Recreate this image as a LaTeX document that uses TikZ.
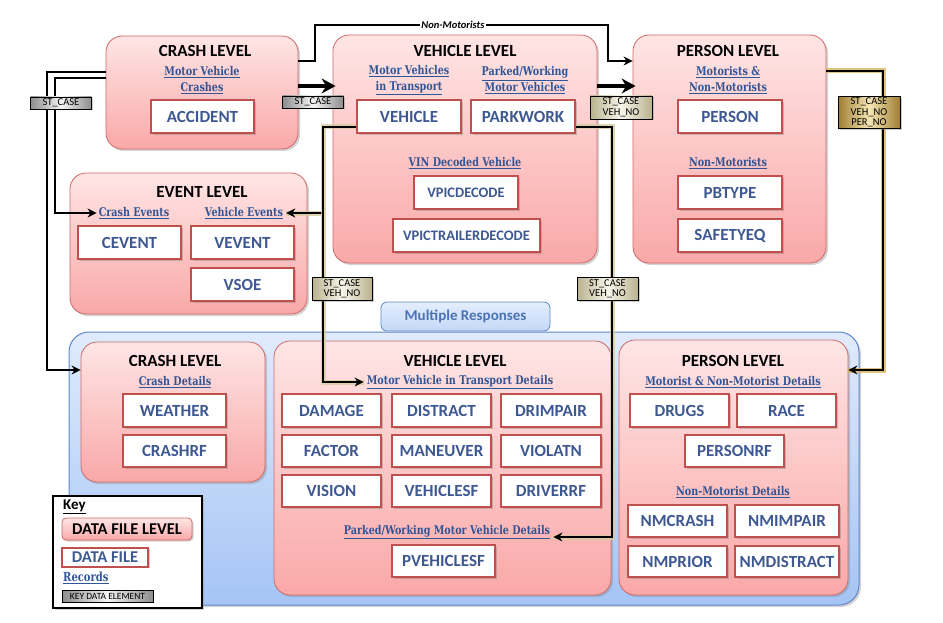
\documentclass[tikz,border=0pt]{standalone}
\usepackage{fontspec}
\setmainfont{Carlito}
\newfontfamily\slab[FakeStretch=0.8]{DejaVu Serif}
\usetikzlibrary{arrows.meta,shadows}
\definecolor{pinkTop}{RGB}{255,229,229}
\definecolor{pinkBot}{RGB}{250,168,168}
\definecolor{pinkB}{RGB}{210,105,105}
\definecolor{dataB}{RGB}{192,80,77}
\definecolor{dataT}{RGB}{62,88,145}
\definecolor{subT}{RGB}{50,85,150}
\definecolor{blueTop}{RGB}{224,235,252}
\definecolor{blueBot}{RGB}{165,196,245}
\definecolor{blueB}{RGB}{95,135,200}
\definecolor{tabTop}{RGB}{228,238,253}
\definecolor{tabBot}{RGB}{196,216,248}
\definecolor{tabT}{RGB}{75,115,180}
\definecolor{lgE}{RGB}{140,140,140}
\definecolor{lgM}{RGB}{245,245,245}
\definecolor{bgE}{RGB}{185,178,142}
\definecolor{bgM}{RGB}{247,245,234}
\definecolor{ggE}{RGB}{160,125,50}
\definecolor{ggM}{RGB}{245,230,180}
\definecolor{glowC}{RGB}{215,203,160}
\definecolor{glowY}{RGB}{215,180,100}
\begin{document}
\begin{tikzpicture}[x=1pt,y=-1pt,
  shd/.style={drop shadow={opacity=0.35,shadow xshift=2pt,shadow yshift=-2pt}},
  lvl/.style={draw=pinkB, line width=0.8pt, rounded corners=16pt, top color=pinkTop, bottom color=pinkBot, inner sep=0, shd},
  bluebox/.style={draw=blueB, line width=1pt, rounded corners=20pt, top color=blueTop, bottom color=blueBot, inner sep=0, shd},
  tabbox/.style={draw=blueB, line width=0.8pt, rounded corners=6pt, top color=tabTop, bottom color=tabBot, text=tabT, font=\bfseries\fontsize{15}{18}\selectfont, inner sep=0},
  data/.style={draw=dataB, line width=2.4pt, fill=white, text=dataT, font=\bfseries\fontsize{17}{20}\selectfont, inner sep=0, minimum width=103, minimum height=33, drop shadow={opacity=0.4,shadow xshift=2pt,shadow yshift=-2pt}},
  dsmall/.style={data, font=\bfseries\fontsize{14.5}{17}\selectfont},
  ttl/.style={font=\bfseries\fontsize{17}{20}\selectfont, inner sep=0},
  sub/.style={font=\slab\bfseries\fontsize{12}{15.5}\selectfont, text=subT, align=center, inner sep=1pt},
  lab/.style={draw=black, line width=0.6pt, font=\fontsize{10.5}{10.5}\selectfont, align=center, inner sep=0, drop shadow={opacity=0.4,shadow xshift=1.5pt,shadow yshift=-1.5pt}},
  graylab/.style={lab, left color=lgE, right color=lgE, middle color=lgM},
  beigelab/.style={lab, left color=bgE, right color=bgE, middle color=bgM},
  goldlab/.style={lab, left color=ggE, right color=ggE, middle color=ggM},
  conn/.style={line width=1.5pt, black, -{Stealth[length=9pt,width=9pt]}},
  bigarrow/.style={line width=3.5pt, black, -{Stealth[length=14pt,width=15pt]}},
  glow/.style={conn, preaction={draw, line width=5pt, glowC, opacity=0.8, arrows=-}},
  glowgold/.style={conn, preaction={draw, line width=5pt, glowY, opacity=0.8, arrows=-}}
]
\useasboundingbox (0,0) rectangle (943,623);

% ---------- multiple responses container ----------
\node[bluebox, minimum width=790, minimum height=273] (multi) at (464,468.5) {};
\node[tabbox, minimum width=169, minimum height=29] (tab) at (465.5,316.5) {Multiple Responses};

% ---------- level boxes ----------
\node[lvl, minimum width=192, minimum height=113] (crashT) at (202,92.5) {};
\node[lvl, minimum width=264, minimum height=228] (vehT) at (465,149) {};
\node[lvl, minimum width=193, minimum height=228] (perT) at (729.5,149) {};
\node[lvl, minimum width=237, minimum height=141] (eventL) at (188.5,243.5) {};
\node[lvl, minimum width=184, minimum height=140] (crashB) at (173,412) {};
\node[lvl, minimum width=337, minimum height=254] (vehB) at (442.5,468) {};
\node[lvl, minimum width=229, minimum height=255] (perB) at (733.5,467.5) {};

% ---------- titles ----------
\node[ttl] (t1) at (205,51) {CRASH LEVEL};
\node[ttl] (t2) at (465,51) {VEHICLE LEVEL};
\node[ttl] (t3) at (728,51) {PERSON LEVEL};
\node[ttl] (t4) at (202,192) {EVENT LEVEL};
\node[ttl] (t5) at (175,361) {CRASH LEVEL};
\node[ttl] (t6) at (455,361) {VEHICLE LEVEL};
\node[ttl] (t7) at (733,361) {PERSON LEVEL};

% ---------- sub headings ----------
\node[sub] (s1) at (202,80) {\underline{Motor Vehicle}\\\underline{Crashes}};
\node[sub] (s2) at (409,80) {\underline{Motor Vehicles}\\\underline{in Transport}};
\node[sub] (s3) at (525,80) {\underline{Parked/Working}\\\underline{Motor Vehicles}};
\node[sub] (s4) at (465,163) {\underline{VIN Decoded Vehicle}};
\node[sub] (s5) at (728,80) {\underline{Motorists \&}\\\underline{Non-Motorists}};
\node[sub] (s6) at (728,163) {\underline{Non-Motorists}};
\node[sub] (ce) at (134,213) {\underline{Crash Events}};
\node[sub] (ve) at (244,213) {\underline{Vehicle Events}};
\node[sub] (cd) at (175,382) {\underline{Crash Details}};
\node[sub] (mvt) at (460,382) {\underline{Motor Vehicle in Transport Details}};
\node[sub] (pwd) at (447,532) {\underline{Parked/Working Motor Vehicle Details}};
\node[sub] (mnd) at (733,382) {\underline{Motorist \& Non-Motorist Details}};
\node[sub] (nmd) at (733,492) {\underline{Non-Motorist Details}};

% ---------- connectors ----------
\draw[conn] (crashT.east |- 0,61) -- (315,61) -- (315,25) -- (608,25) -- (608,61) -- (perT.west |- 0,61);
\node[fill=white, font=\bfseries\itshape\fontsize{10.5}{11}\selectfont, inner sep=1pt] (nm) at (453,25) {Non-Motorists};
\draw[bigarrow] (crashT.east |- 0,86) -- ([xshift=3pt]vehT.west |- 0,86);
\draw[bigarrow] (vehT.east |- 0,86) -- ([xshift=3pt]perT.west |- 0,86);
\draw[conn] (crashT.west |- 0,72) -- (47,72) -- (47,370) -- (crashB.west |- 0,370);
\draw[conn] (crashT.west |- 0,78) -- (55,78) -- (55,213) -- ([xshift=-1pt]ce.west |- 0,213);
\draw[glowgold] (perT.east |- 0,71) -- (883,71) -- (883,370) -- (perB.east |- 0,370);

% ---------- data files ----------
\node[data, minimum width=103] (acc) at (202.5,116.5) {ACCIDENT};
\node[data, minimum width=104] (veh) at (409,116.5) {VEHICLE};
\node[data, minimum width=104] (pw) at (523,116.5) {PARKWORK};
\node[dsmall, minimum width=104] (vpic) at (466,192.5) {VPICDECODE};
\node[dsmall, minimum width=147] (vpict) at (466.5,235.5) {VPICTRAILERDECODE};
\node[data, minimum width=104] (per) at (730,116.5) {PERSON};
\node[data, minimum width=104] (pbt) at (730,192.5) {PBTYPE};
\node[data, minimum width=104] (seq) at (730,235.5) {SAFETYEQ};
\node[data] (cev) at (129.5,242.5) {CEVENT};
\node[data] (vev) at (242.5,242.5) {VEVENT};
\node[data] (vsoe) at (242.5,284.5) {VSOE};
\node[data] (wea) at (174.5,410.5) {WEATHER};
\node[data, minimum height=32] (crf) at (174.5,451) {CRASHRF};
\node[data, minimum width=99] (dam) at (331.5,410.5) {DAMAGE};
\node[data, minimum width=99] (dis) at (441.5,410.5) {DISTRACT};
\node[data, minimum width=100] (dri) at (551,410.5) {DRIMPAIR};
\node[data, minimum width=99, minimum height=32] (fac) at (331.5,451) {FACTOR};
\node[data, minimum width=99, minimum height=32] (man) at (441.5,451) {MANEUVER};
\node[data, minimum width=100, minimum height=32] (vio) at (551,451) {VIOLATN};
\node[data, minimum width=99, minimum height=32] (vis) at (331.5,491) {VISION};
\node[data, minimum width=99, minimum height=32] (vsf) at (441.5,491) {VEHICLESF};
\node[data, minimum width=100, minimum height=32] (drf) at (551,491) {DRIVERRF};
\node[data, minimum height=32] (pvsf) at (443.5,561) {PVEHICLESF};
\node[data, minimum width=99] (drg) at (679.5,410.5) {DRUGS};
\node[data, minimum width=99] (race) at (786.5,410.5) {RACE};
\node[data, minimum width=99, minimum height=32] (prf) at (734.5,451) {PERSONRF};
\node[data, minimum width=99, minimum height=32] (nmc) at (677.5,521) {NMCRASH};
\node[data, minimum width=104, minimum height=32] (nmi) at (787,521) {NMIMPAIR};
\node[data, minimum width=99, minimum height=31] (nmp) at (677.5,561.5) {NMPRIOR};
\node[data, minimum width=104, minimum height=31] (nmdx) at (787,561.5) {NMDISTRACT};

% ---------- glowing connectors ----------
\draw[glow] (323,213) -- ([xshift=2pt]ve.east |- 0,213);
\draw[glow] (veh.west |- 0,127) -- (323,127) -- (323,382) -- ([xshift=-2pt]mvt.west |- 0,382);
\draw[glow] (pw.east |- 0,127) -- (612,127) -- (612,537) -- ([xshift=2pt]pwd.east |- 0,537);

% ---------- key element labels ----------
\node[graylab, minimum width=61, minimum height=12] (k1) at (313,102) {ST\_CASE};
\node[beigelab, minimum width=62, minimum height=23] (k2) at (621,107.5) {ST\_CASE\\VEH\_NO};
\node[graylab, minimum width=61, minimum height=12] (k3) at (61,103) {ST\_CASE};
\node[beigelab, minimum width=60, minimum height=23] (k4) at (342,289) {ST\_CASE\\VEH\_NO};
\node[beigelab, minimum width=61, minimum height=23] (k5) at (607.5,289) {ST\_CASE\\VEH\_NO};
\node[goldlab, minimum width=62, minimum height=32] (k6) at (869,112.5) {ST\_CASE\\VEH\_NO\\PER\_NO};

% ---------- key ----------
\node[draw=black, line width=1.5pt, fill=white, minimum width=149, minimum height=112, inner sep=0, drop shadow={opacity=0.35,shadow xshift=2pt,shadow yshift=-2pt}] (key) at (127.5,552) {};
\node[anchor=west, font=\bfseries\fontsize{15}{17}\selectfont, inner sep=0] (keyt) at (63,507) {\underline{Key}};
\node[draw=pinkB, line width=0.8pt, rounded corners=4pt, top color=pinkTop, bottom color=pinkBot, minimum width=130, minimum height=22, inner sep=0, font=\bfseries\fontsize{16.5}{18}\selectfont, drop shadow={opacity=0.35,shadow xshift=1.5pt,shadow yshift=-1.5pt}] (kl) at (127,529) {DATA FILE LEVEL};
\node[draw=dataB, line width=2pt, fill=white, text=dataT, minimum width=86, minimum height=19, inner sep=0, font=\bfseries\fontsize{16.5}{18}\selectfont, drop shadow={opacity=0.35,shadow xshift=1.5pt,shadow yshift=-1.5pt}] (kd) at (105,557) {DATA FILE};
\node[anchor=west, font=\slab\bfseries\fontsize{12.5}{14}\selectfont, text=subT, inner sep=0] (kr) at (63,578) {\underline{Records}};
\node[draw=black, line width=0.6pt, left color=lgE, right color=lgE, middle color=lgM, minimum width=91, minimum height=12, inner sep=0, font=\fontsize{9.5}{10}\selectfont] (ke) at (107.5,596) {KEY DATA ELEMENT};
\end{tikzpicture}
\end{document}
